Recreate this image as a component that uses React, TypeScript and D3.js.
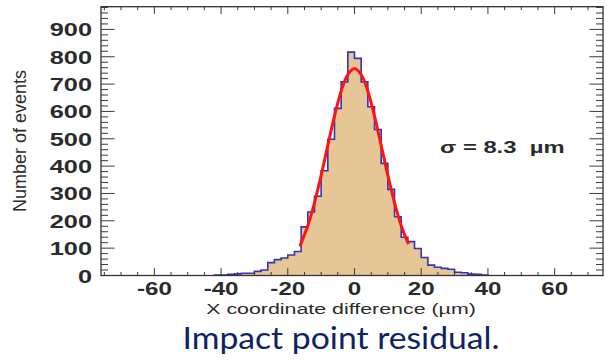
import React from 'react';
import * as d3 from 'd3';

// Histogram: bins of width 2 µm starting at -42 µm
const binStart = -42;
const binWidth = 2;
const binCounts = [
  2, 2, 4, 6, 8, 8, 15, 20, 47, 58, 64, 75, 88, 178, 232, 290, 383, 498, 611, 708, // -42 .. -2
  817, 794, 708, 617, 534, 410, 315, 215, 140, 124, 99, 66, 38, 30, 26, 23, 12, 10, 5, 4, 2, // -2 .. 40
];

// Gaussian fit curve
const fitX = [-16.4, -14, -12, -10, -8, -6, -4, -2, 0, 2, 4, 6, 8, 10, 12, 14, 16.2];
const fitY = [107, 182, 266, 366, 476, 583, 674, 735, 757, 735, 674, 583, 476, 366, 266, 182, 115];

const yTicks = [0, 100, 200, 300, 400, 500, 600, 700, 800, 900];
const xTicks = [-60, -40, -20, 0, 20, 40, 60];
const xTitle = 'X coordinate difference (\u00b5m)';
const yTitle = 'Number of events';
const sigmaLabel = '\u03c3 = 8.3  \u00b5m';
const caption = 'Impact point residual.';

export default function App() {
  const W = 606, H = 361;
  const L = 101, R = 603, T = 6.7, B = 275.5;
  const x = d3.scaleLinear().domain([-76, 74.5]).range([L, R]);
  const y = d3.scaleLinear().domain([0, 983]).range([B, T]);

  const pts: [number, number][] = [];
  binCounts.forEach((c, i) => {
    const x0 = binStart + i * binWidth;
    const x1 = x0 + binWidth;
    if (i === 0) pts.push([x0, 0]);
    pts.push([x0, c]);
    pts.push([x1, c]);
  });
  pts.push([binStart + binCounts.length * binWidth, 0]);
  const line = d3.line<[number, number]>().x(d => x(d[0])).y(d => y(d[1]));
  const histPath = line(pts) as string;
  const fillPath = histPath + 'Z';

  const fitPts = fitX.map((v, i) => [v, fitY[i]] as [number, number]);
  const fitLine = d3.line<[number, number]>().x(d => x(d[0])).y(d => y(d[1])).curve(d3.curveCatmullRom)(fitPts) as string;

  const xMinor = d3.range(-75, 75, 5);
  const yMinor = d3.range(0, 983, 20);

  const tickColor = '#3a3a3a';
  const labelFont = "'Liberation Sans', Arial, sans-serif";

  return (
    <svg width={W} height={H} style={{ position: 'absolute', left: 0, top: 0, background: '#fff' }}>
      <rect x={0} y={0} width={W} height={H} fill="#fff" />
      <path d={fillPath} fill="#e6c596" stroke="none" />
      <path d={histPath} fill="none" stroke="#3434b8" strokeWidth={1.6} />
      <path d={fitLine} fill="none" stroke="#ff1414" strokeWidth={3} />

      {/* x ticks bottom & top */}
      {xMinor.map(v => {
        const major = v % 20 === 0;
        const len = major ? 7.3 : 3.5;
        return (
          <g key={'xt' + v}>
            <line x1={x(v)} x2={x(v)} y1={B} y2={B - len} stroke={tickColor} strokeWidth={1} />
            <line x1={x(v)} x2={x(v)} y1={T} y2={T + len} stroke={tickColor} strokeWidth={1} />
          </g>
        );
      })}
      {/* y ticks left & right */}
      {yMinor.map(v => {
        const major = v % 100 === 0;
        const len = major ? 13.5 : 7;
        return (
          <g key={'yt' + v}>
            <line x1={L} x2={L + len} y1={y(v)} y2={y(v)} stroke={tickColor} strokeWidth={1} />
            <line x1={R} x2={R - len} y1={y(v)} y2={y(v)} stroke={tickColor} strokeWidth={1} />
          </g>
        );
      })}
      <rect x={L} y={T} width={R - L} height={B - T} fill="none" stroke="#333" strokeWidth={1.3} />

      {yTicks.map(v => (
        <text key={'yl' + v} transform={`translate(92,${y(v)}) scale(1.45,1)`} dy="0.4em" textAnchor="end"
          fontFamily={labelFont} fontWeight="bold" fontSize={17.5} fill="#2b2b2b">{v}</text>
      ))}
      {xTicks.map(v => (
        <text key={'xl' + v} transform={`translate(${x(v)},295) scale(1.38,1)`} textAnchor="middle"
          fontFamily={labelFont} fontWeight="bold" fontSize={17.5} fill="#2b2b2b">{v}</text>
      ))}
      <text transform="translate(341,314) scale(1.38,1)" textAnchor="middle" fontFamily={labelFont}
        fontSize={15.5} fill="#2b2b2b">{xTitle}</text>
      <text transform="translate(26,141) rotate(-90)" textAnchor="middle" fontFamily={labelFont}
        fontSize={19} textLength={142} lengthAdjust="spacingAndGlyphs" fill="#2b2b2b">{yTitle}</text>
      <text transform="translate(440,153) scale(1.4,1)" fontFamily={labelFont} fontWeight="bold"
        fontSize={17} fill="#2b2b2b" style={{ whiteSpace: 'pre' }}>{sigmaLabel}</text>
      <text x={341} y={349} textAnchor="middle" fontFamily="Lato, 'Open Sans', sans-serif" fontSize={31}
        textLength={317} lengthAdjust="spacingAndGlyphs" fill="#0e2462">{caption}</text>
    </svg>
  );
}
